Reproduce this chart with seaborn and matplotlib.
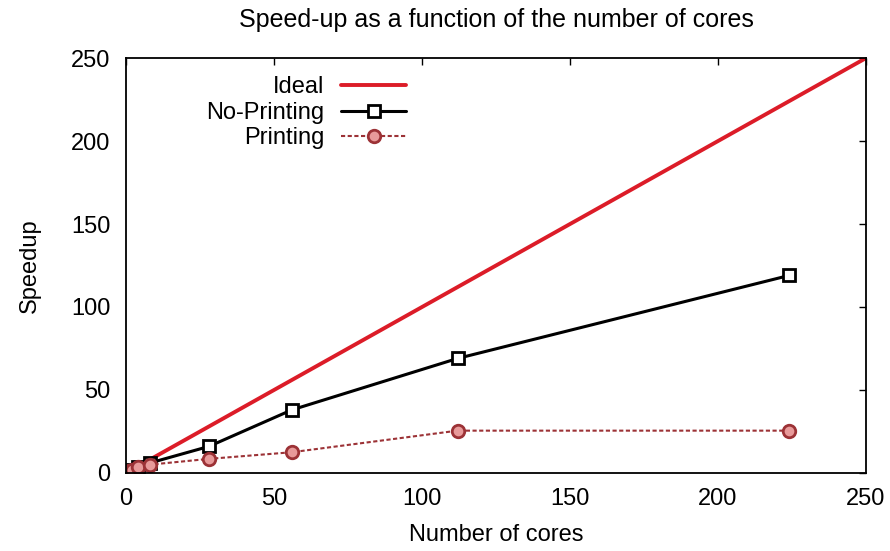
import matplotlib
matplotlib.use("Agg")
import matplotlib.pyplot as plt
import seaborn as sns
import pandas as pd

# Core counts measured and the speed-up observed for each run mode
cores = [1, 2, 4, 8, 28, 56, 112, 224]
speedup_no_printing = [1, 2, 3.8, 6, 16, 38, 69, 119]
speedup_printing = [1, 2, 3.5, 5, 8.5, 12.5, 25.5, 25.5]

# Ideal linear scaling
ideal_cores = [0, 250]
ideal_speedup = [0, 250]

x_ticks = [0, 50, 100, 150, 200, 250]
y_ticks = [0, 50, 100, 150, 200, 250]

sns.set_theme(style="white")
plt.rcParams["font.family"] = ["Liberation Sans", "DejaVu Sans"]
plt.rcParams["text.color"] = "black"
plt.rcParams["axes.labelcolor"] = "black"
plt.rcParams["xtick.color"] = "black"
plt.rcParams["ytick.color"] = "black"

fig = plt.figure(figsize=(8.9, 5.51), dpi=100)
ax = fig.add_axes([0.1416, 0.1416, 0.8315, 0.7531])

ideal_df = pd.DataFrame({"cores": ideal_cores, "speedup": ideal_speedup})
nop_df = pd.DataFrame({"cores": cores, "speedup": speedup_no_printing})
pr_df = pd.DataFrame({"cores": cores, "speedup": speedup_printing})

sns.lineplot(data=ideal_df, x="cores", y="speedup", ax=ax, color="#dc1c28",
             linewidth=2.8, label="Ideal")
sns.lineplot(data=nop_df, x="cores", y="speedup", ax=ax, color="black",
             linewidth=2.2, marker="s", markersize=9, markerfacecolor="white",
             markeredgecolor="black", markeredgewidth=2.0, label="No-Printing")
sns.lineplot(data=pr_df, x="cores", y="speedup", ax=ax, color="#9c3236",
             linewidth=1.5, linestyle=(0, (2, 1.2)), marker="o", markersize=9,
             markerfacecolor="#e89a9a", markeredgecolor="#9c3236",
             markeredgewidth=2.0, label="Printing")

ax.set_xlim(0, 250)
ax.set_ylim(0, 250)
ax.set_xticks(x_ticks)
ax.set_yticks(y_ticks)
ax.tick_params(direction="in", length=5, width=1, top=True, right=True,
               labelsize=17, pad=11)
for side in ax.spines.values():
    side.set_color("black")
    side.set_linewidth(1.3)

ax.set_xlabel("Number of cores", fontsize=17, labelpad=10)
ax.set_ylabel("Speedup", fontsize=17, labelpad=22)
ax.set_title("Speed-up as a function of the number of cores", fontsize=18, pad=22)

ax.legend(loc="upper left", bbox_to_anchor=(0.08, 1.007), frameon=False,
          markerfirst=False, fontsize=17, handlelength=2.75, labelspacing=0.15,
          handletextpad=0.7)

fig.savefig("out.png", dpi=100)
